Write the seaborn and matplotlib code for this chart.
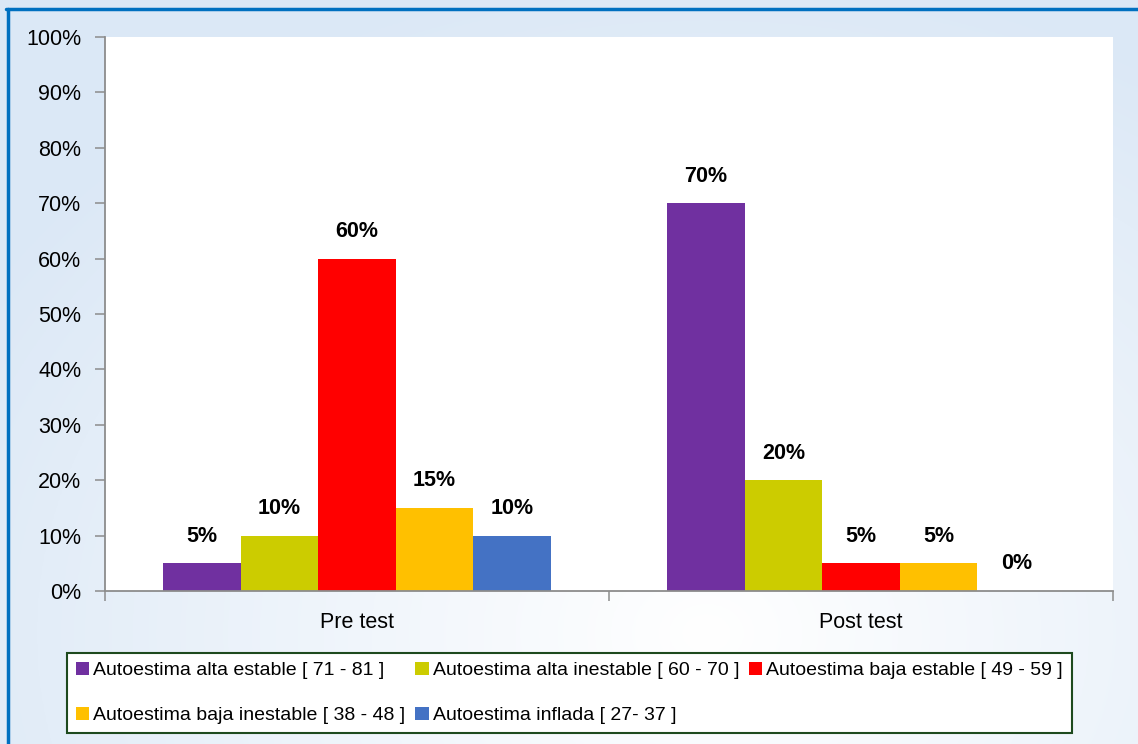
import numpy as np
import pandas as pd
import seaborn as sns
import matplotlib.pyplot as plt
from matplotlib.lines import Line2D
from matplotlib.ticker import FixedLocator

# data
tests = ["Pre test", "Post test"]
levels = [
    "Autoestima alta estable [ 71 - 81 ]",
    "Autoestima alta inestable [ 60 - 70 ]",
    "Autoestima baja estable [ 49 - 59 ]",
    "Autoestima baja inestable [ 38 - 48 ]",
    "Autoestima inflada [ 27- 37 ]",
]
pre_values = [5, 10, 60, 15, 10]
post_values = [70, 20, 5, 5, 0]
colors = ["#7030A0", "#CCCC00", "#FF0000", "#FFC000", "#4472C4"]

df = pd.DataFrame({
    "test": [tests[0]] * len(levels) + [tests[1]] * len(levels),
    "nivel": levels * 2,
    "valor": pre_values + post_values,
})

sns.set_style("white")
plt.rcParams["font.family"] = ["Liberation Sans", "DejaVu Sans"]
plt.rcParams["text.color"] = "black"
plt.rcParams["xtick.labelcolor"] = "black"
plt.rcParams["ytick.labelcolor"] = "black"

fig = plt.figure(figsize=(11.38, 7.44), dpi=100)

# pale blue gradient behind everything
h, w = 372, 569
yy, xx = np.mgrid[0:h, 0:w]
d = np.sqrt(((xx / w - 0.62) / 0.75) ** 2 + ((yy / h - 0.85) / 0.9) ** 2)
t = np.clip(d, 0, 1)[..., None]
edge = np.array([0.86, 0.91, 0.965])
grad = (1 - t) * np.array([1.0, 1.0, 1.0]) + t * edge
bg = fig.add_axes([0, 0, 1, 1], zorder=-5)
bg.imshow(grad, aspect="auto", extent=[0, 1, 0, 1], origin="upper")
bg.axis("off")

ax = fig.add_axes([105 / 1138, 1 - 591 / 744, (1113 - 105) / 1138, (591 - 37) / 744])
sns.barplot(data=df, x="test", y="valor", hue="nivel", order=tests,
            hue_order=levels, palette=colors, width=0.77, saturation=1,
            linewidth=0, ax=ax, legend=True)
ax.set_facecolor("white")
ax.set_xlim(-0.5, 1.5)
ax.set_ylim(0, 100)
ax.set_yticks(range(0, 101, 10))
ax.set_yticklabels([f"{v}%" for v in range(0, 101, 10)])
ax.set_xlabel("")
ax.set_ylabel("")

for sp in ["top", "right"]:
    ax.spines[sp].set_visible(False)
for sp in ["left", "bottom"]:
    ax.spines[sp].set_color("#8C8C8C")
    ax.spines[sp].set_linewidth(1.3)

ax.tick_params(axis="y", which="major", direction="out", length=7, width=1.1,
               color="#8C8C8C", labelsize=15.5, pad=10, left=True,
               labelcolor="black")
ax.tick_params(axis="x", which="major", length=0, labelsize=15.5, pad=15,
               labelcolor="black")
ax.xaxis.set_minor_locator(FixedLocator([-0.5, 0.5, 1.5]))
ax.tick_params(axis="x", which="minor", direction="out", length=7, width=1.1,
               color="#8C8C8C", bottom=True)

for cont in ax.containers:
    ax.bar_label(cont, labels=[f"{v:.0f}%" for v in cont.datavalues],
                 padding=12, fontsize=15.5, fontweight="bold", color="black")

handles, labels = ax.get_legend_handles_labels()
ax.get_legend().remove()
order = [0, 3, 1, 4, 2]
leg = fig.legend([handles[i] for i in order], [labels[i] for i in order],
                 loc="upper left", bbox_to_anchor=(67 / 1138, 1 - 653 / 744),
                 ncol=3, fontsize=14, frameon=True, fancybox=False,
                 handlelength=0.7, handleheight=0.7, handletextpad=0.2,
                 columnspacing=0.5, labelspacing=1.4, borderpad=0.45,
                 borderaxespad=0, labelcolor="black")
leg.get_frame().set_edgecolor("#1E4A1E")
leg.get_frame().set_linewidth(1.5)
leg.get_frame().set_facecolor("white")
leg.get_frame().set_alpha(1)

# blue frame lines top and left
fig.add_artist(Line2D([6 / 1138, 1], [1 - 9 / 744, 1 - 9 / 744],
                      transform=fig.transFigure, color="#0070C0", lw=2.5))
fig.add_artist(Line2D([8 / 1138, 8 / 1138], [0, 1 - 9 / 744],
                      transform=fig.transFigure, color="#0070C0", lw=2.5))

fig.savefig("out.png", dpi=100)
